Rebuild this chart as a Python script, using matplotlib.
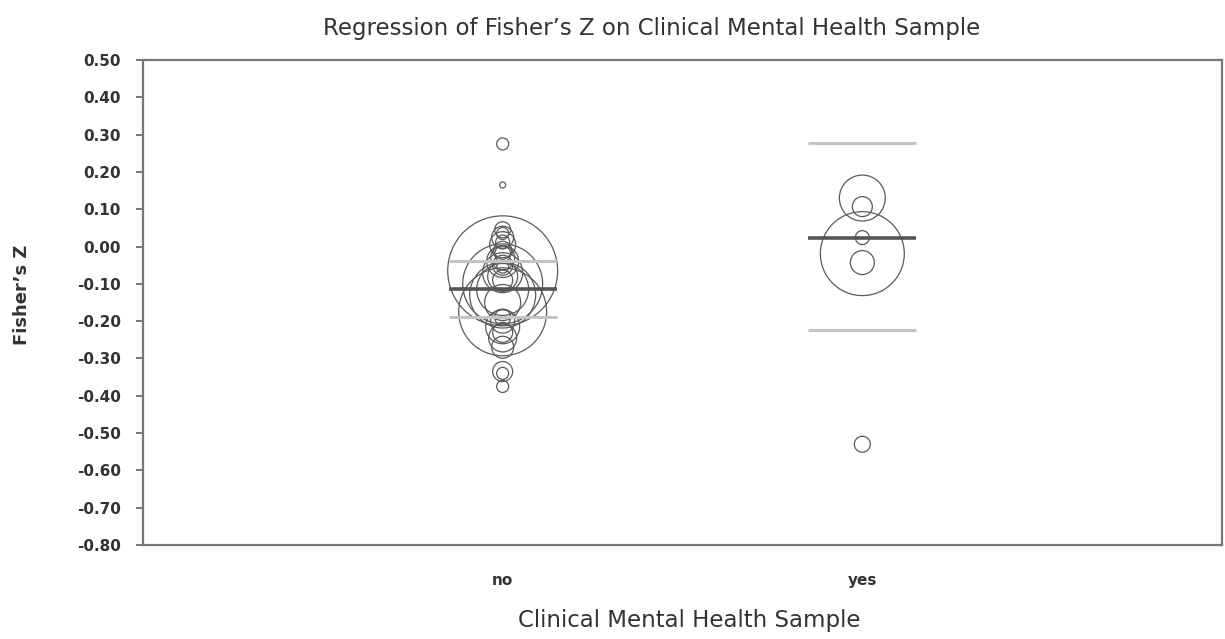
import matplotlib
matplotlib.use("Agg")
import matplotlib.pyplot as plt

# Fisher's Z per study and its relative weight (marker area), split by sample type
groups = ["no", "yes"]

no_z = [0.275, 0.165, 0.045, 0.035, 0.025, 0.012, 0.005, -0.01, -0.02, -0.03,
        -0.04, -0.05, -0.055, -0.065, -0.07, -0.08, -0.09, -0.10, -0.115, -0.13,
        -0.15, -0.175, -0.19, -0.20, -0.215, -0.23, -0.245, -0.27, -0.335, -0.34,
        -0.375]
no_w = [36, 9, 64, 36, 121, 49, 169, 81, 64, 144,
        256, 100, 36, 3025, 400, 225, 100, 1600, 676, 1089,
        324, 1936, 64, 144, 289, 100, 196, 121, 100, 36,
        36]

yes_z = [0.13, 0.107, 0.024, -0.019, -0.043, -0.53]
yes_w = [529, 100, 49, 1764, 144, 64]

# pooled estimate and confidence bounds for each group
est = [-0.113, 0.024]
ci_lo = [-0.19, -0.225]
ci_hi = [-0.038, 0.278]

yticks = [0.5, 0.4, 0.3, 0.2, 0.1, 0.0, -0.1, -0.2, -0.3, -0.4, -0.5, -0.6, -0.7, -0.8]

SPINE = "#777777"
TXT = "#333333"

fig = plt.figure(figsize=(12.25, 6.39), dpi=100)
ax = fig.add_axes([143 / 1225, 1 - 545 / 639, (1222 - 143) / 1225, (545 - 60) / 639])

size_k = 2.07  # weight -> points^2
for i, (z, w) in enumerate([(no_z, no_w), (yes_z, yes_w)]):
    ax.scatter([i] * len(z), z, s=[size_k * v for v in w], facecolors="none",
               edgecolors="#5a5a5a", linewidths=0.9, zorder=2)
    hw = 0.15
    ax.hlines([ci_lo[i], ci_hi[i]], i - hw, i + hw, colors="#c4c4c4", linewidth=2.2, zorder=3)
    ax.hlines(est[i], i - hw, i + hw, colors="#555555", linewidth=2.6, zorder=4)

ax.set_xlim(-1, 2)
ax.set_ylim(-0.8, 0.5)
ax.set_yticks(yticks)
ax.set_yticklabels([f"{t:.2f}" for t in yticks], fontsize=11, fontweight="bold", color=TXT)
ax.set_xticks([0, 1])
ax.set_xticklabels(groups, fontsize=11, fontweight="bold", color=TXT)
ax.tick_params(axis="y", length=5, width=1.4, color=SPINE, pad=11)
ax.tick_params(axis="x", length=0, pad=20)
for sp in ax.spines.values():
    sp.set_color(SPINE)
    sp.set_linewidth(1.6)

fig.text(652 / 1225, 1 - 28 / 639, "Regression of Fisher\u2019s Z on Clinical Mental Health Sample",
         ha="center", va="center", fontsize=16.5, color=TXT)
fig.text(689 / 1225, 1 - 620 / 639, "Clinical Mental Health Sample",
         ha="center", va="center", fontsize=16.5, color=TXT)
fig.text(22 / 1225, 1 - 295 / 639, "Fisher\u2019s Z", rotation=90,
         ha="center", va="center", fontsize=13, fontweight="bold", color=TXT)

fig.savefig("out.png", dpi=100)
